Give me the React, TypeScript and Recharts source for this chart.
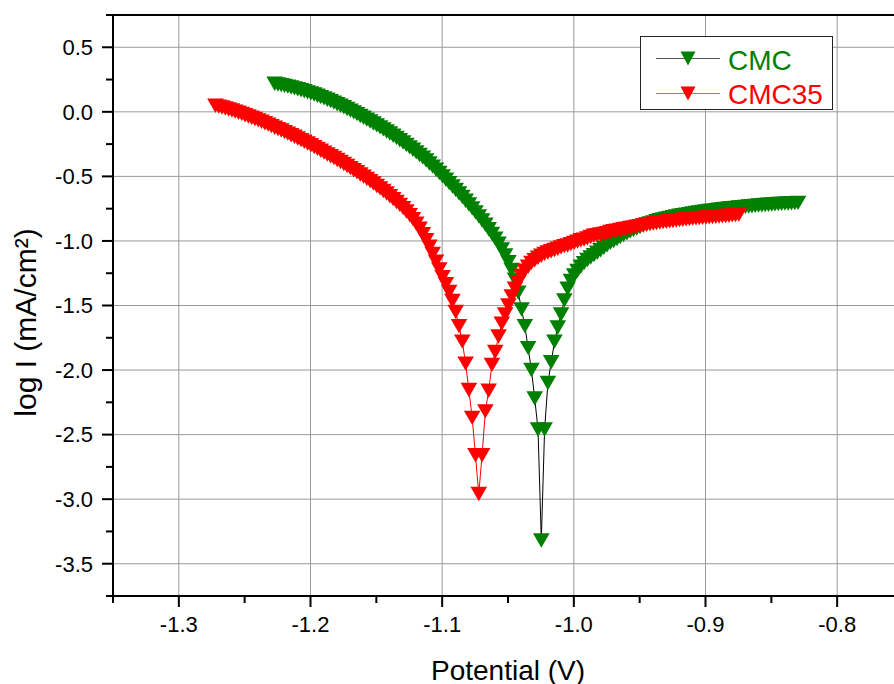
import React from 'react';
import { ComposedChart, Line, XAxis, YAxis, CartesianGrid, ReferenceLine, Legend, Label } from 'recharts';

// Shared potential grid (V), 2.5 mV scan step
const potential = [
  -1.2722, -1.2697, -1.2672, -1.2647, -1.2622, -1.2597, -1.2572, -1.2547, -1.2522, -1.2497,
  -1.2472, -1.2447, -1.2422, -1.2397, -1.2372, -1.2347, -1.2322, -1.2297, -1.2272, -1.2247,
  -1.2222, -1.2197, -1.2172, -1.2147, -1.2122, -1.2097, -1.2072, -1.2047, -1.2022, -1.1997,
  -1.1972, -1.1947, -1.1922, -1.1897, -1.1872, -1.1847, -1.1822, -1.1797, -1.1772, -1.1747,
  -1.1722, -1.1697, -1.1672, -1.1647, -1.1622, -1.1597, -1.1572, -1.1547, -1.1522, -1.1497,
  -1.1472, -1.1447, -1.1422, -1.1397, -1.1372, -1.1347, -1.1322, -1.1297, -1.1272, -1.1247,
  -1.1222, -1.1197, -1.1172, -1.1147, -1.1122, -1.1097, -1.1072, -1.1047, -1.1022, -1.0997,
  -1.0972, -1.0947, -1.0922, -1.0897, -1.0872, -1.0847, -1.0822, -1.0797, -1.0772, -1.0747,
  -1.0722, -1.0697, -1.0672, -1.0647, -1.0622, -1.0597, -1.0572, -1.0547, -1.0522, -1.0497,
  -1.0472, -1.0447, -1.0422, -1.0397, -1.0372, -1.0347, -1.0322, -1.0297, -1.0272, -1.0247,
  -1.0222, -1.0197, -1.0172, -1.0147, -1.0122, -1.0097, -1.0072, -1.0047, -1.0022, -0.9997,
  -0.9972, -0.9947, -0.9922, -0.9897, -0.9872, -0.9847, -0.9822, -0.9797, -0.9772, -0.9747,
  -0.9722, -0.9697, -0.9672, -0.9647, -0.9622, -0.9597, -0.9572, -0.9547, -0.9522, -0.9497,
  -0.9472, -0.9447, -0.9422, -0.9397, -0.9372, -0.9347, -0.9322, -0.9297, -0.9272, -0.9247,
  -0.9222, -0.9197, -0.9172, -0.9147, -0.9122, -0.9097, -0.9072, -0.9047, -0.9022, -0.8997,
  -0.8972, -0.8947, -0.8922, -0.8897, -0.8872, -0.8847, -0.8822, -0.8797, -0.8772, -0.8747,
  -0.8722, -0.8697, -0.8672, -0.8647, -0.8622, -0.8597, -0.8572, -0.8547, -0.8522, -0.8497,
  -0.8472, -0.8447, -0.8422, -0.8397, -0.8372, -0.8347, -0.8322, -0.8297,
];

// CMC35: starts at the first potential of the grid
const cmc35LogI = [
  0.047, 0.040, 0.033, 0.026, 0.018, 0.010, 0.002, -0.007, -0.016, -0.026,
  -0.036, -0.046, -0.056, -0.066, -0.077, -0.088, -0.099, -0.111, -0.123, -0.134,
  -0.145, -0.157, -0.169, -0.181, -0.193, -0.206, -0.219, -0.232, -0.245, -0.259,
  -0.273, -0.287, -0.302, -0.316, -0.330, -0.344, -0.358, -0.373, -0.388, -0.404,
  -0.420, -0.436, -0.452, -0.468, -0.485, -0.502, -0.519, -0.537, -0.555, -0.574,
  -0.593, -0.613, -0.633, -0.654, -0.676, -0.698, -0.721, -0.746, -0.772, -0.800,
  -0.831, -0.866, -0.905, -0.948, -0.995, -1.045, -1.10, -1.16, -1.22, -1.28,
  -1.335, -1.395, -1.465, -1.55, -1.66, -1.78, -1.95, -2.155, -2.37, -2.66,
  -2.96, -2.66, -2.32, -2.16, -1.96, -1.86, -1.74, -1.64, -1.57, -1.50,
  -1.43, -1.37, -1.32, -1.27, -1.23, -1.20, -1.17, -1.15, -1.13, -1.115,
  -1.10, -1.09, -1.08, -1.07, -1.06, -1.05, -1.04, -1.035, -1.025, -1.015,
  -1.005, -0.995, -0.99, -0.98, -0.97, -0.96, -0.955, -0.95, -0.945, -0.94,
  -0.93, -0.925, -0.92, -0.915, -0.91, -0.905, -0.90, -0.895, -0.89, -0.885,
  -0.88, -0.875, -0.87, -0.866, -0.862, -0.858, -0.854, -0.851, -0.848, -0.845,
  -0.842, -0.839, -0.836, -0.833, -0.83, -0.827, -0.825, -0.823, -0.821, -0.819,
  -0.817, -0.815, -0.813, -0.811, -0.809, -0.807, -0.805, -0.802, -0.799, -0.796,
];

// CMC: starts at grid index 18 (-1.2272 V)
const CMC_START_INDEX = 18;
const cmcLogI = [
  0.217, 0.212, 0.207, 0.201, 0.195, 0.189, 0.182, 0.175, 0.167, 0.159,
  0.151, 0.143, 0.134, 0.124, 0.114, 0.104, 0.094, 0.083, 0.071, 0.059,
  0.047, 0.035, 0.022, 0.009, -0.004, -0.018, -0.032, -0.046, -0.060, -0.075,
  -0.090, -0.105, -0.120, -0.136, -0.152, -0.168, -0.185, -0.202, -0.220, -0.238,
  -0.256, -0.275, -0.294, -0.314, -0.334, -0.355, -0.377, -0.400, -0.424, -0.449,
  -0.474, -0.500, -0.526, -0.552, -0.578, -0.605, -0.632, -0.660, -0.689, -0.718,
  -0.748, -0.779, -0.810, -0.842, -0.875, -0.909, -0.945, -0.982, -1.022, -1.065,
  -1.112, -1.165, -1.225, -1.30, -1.40, -1.53, -1.66, -1.83, -2.00, -2.22,
  -2.46, -3.32, -2.46, -2.10, -1.94, -1.78, -1.67, -1.57, -1.46, -1.37,
  -1.31, -1.268, -1.232, -1.200, -1.172, -1.148, -1.128, -1.110, -1.091, -1.072,
  -1.053, -1.034, -1.015, -1.000, -0.985, -0.970, -0.955, -0.940, -0.928, -0.916,
  -0.904, -0.892, -0.880, -0.872, -0.864, -0.856, -0.848, -0.840, -0.834, -0.828,
  -0.822, -0.816, -0.810, -0.805, -0.801, -0.796, -0.792, -0.787, -0.783, -0.779,
  -0.776, -0.772, -0.768, -0.765, -0.762, -0.758, -0.755, -0.752, -0.749, -0.746,
  -0.744, -0.741, -0.738, -0.736, -0.733, -0.731, -0.728, -0.726, -0.724, -0.722,
  -0.720, -0.718, -0.716, -0.714, -0.713, -0.711, -0.710, -0.708, -0.707, -0.705,
];

const xMajorTicks = [-1.3, -1.2, -1.1, -1.0, -0.9, -0.8];
const xMinorTicks = [-1.35, -1.25, -1.15, -1.05, -0.95, -0.85, -0.75];
const yMajorTicks = [0.5, 0.0, -0.5, -1.0, -1.5, -2.0, -2.5, -3.0, -3.5];
const yMinorTicks = [0.75, 0.25, -0.25, -0.75, -1.25, -1.75, -2.25, -2.75, -3.25, -3.75];

const seriesNames = { cmc: 'CMC', cmc35: 'CMC35' };
const xTitle = 'Potential (V)';
const yTitle = 'log I (mA/cm²)';

const tableData = potential.map((p, i) => ({
  potential: p,
  cmc35: i < cmc35LogI.length ? cmc35LogI[i] : null,
  cmc: i >= CMC_START_INDEX && i - CMC_START_INDEX < cmcLogI.length ? cmcLogI[i - CMC_START_INDEX] : null,
}));

const FONT = '"Liberation Sans", Arial, Helvetica, sans-serif';
const TICK_LEN = 11;
const MINOR_LEN = 7;
const TICK_GAP = 9;
const TICK_FONT = 22;
const GREEN = '#008000';
const RED = '#ff0000';

const isIn = (v: number, list: number[]) => list.some((m) => Math.abs(m - v) < 1e-6);

function XTick(props: any) {
  const { x, y, payload } = props;
  const v = payload.value as number;
  const major = isIn(v, xMajorTicks);
  const axisY = y - TICK_LEN - TICK_GAP;
  return (
    <g>
      <line x1={x} x2={x} y1={axisY} y2={axisY + (major ? TICK_LEN : MINOR_LEN)} stroke="#000" strokeWidth={2} />
      {major && (
        <text x={x} y={y + 15.5} textAnchor="middle" fontSize={TICK_FONT} fontFamily={FONT} fill="#000">
          {v.toFixed(1)}
        </text>
      )}
    </g>
  );
}

function YTick(props: any) {
  const { x, y, payload } = props;
  const v = payload.value as number;
  const major = isIn(v, yMajorTicks);
  const axisX = x + TICK_LEN + TICK_GAP;
  return (
    <g>
      <line x1={axisX - (major ? TICK_LEN : MINOR_LEN)} x2={axisX} y1={y} y2={y} stroke="#000" strokeWidth={2} />
      {major && (
        <text x={x} y={y + 7.8} textAnchor="end" fontSize={TICK_FONT} fontFamily={FONT} fill="#000">
          {v.toFixed(1)}
        </text>
      )}
    </g>
  );
}

function triangleDot(color: string) {
  return (props: any) => {
    const { cx, cy, index, value } = props;
    if (cx == null || cy == null || value == null || Number.isNaN(cx) || Number.isNaN(cy)) {
      return <g key={`n-${index}`} />;
    }
    const w = 8.3;
    const h = 7.2;
    return (
      <path
        key={`t-${index}`}
        d={`M${cx - w},${cy - h}L${cx + w},${cy - h}L${cx},${cy + h}Z`}
        fill={color}
        stroke="none"
      />
    );
  };
}

function LegendBox() {
  const tri = (cx: number, cy: number, color: string) => (
    <path d={`M${cx - 7.5},${cy - 7}L${cx + 7.5},${cy - 7}L${cx},${cy + 7}Z`} fill={color} />
  );
  return (
    <svg width={194} height={76} style={{ display: 'block' }}>
      <rect x={0.5} y={0.5} width={192} height={73} fill="#fff" stroke="#222" strokeWidth={1} />
      <line x1={16} x2={80} y1={22.5} y2={22.5} stroke="#555" strokeWidth={1} />
      {tri(48, 22.5, GREEN)}
      <text x={88} y={33.5} fontSize={28} fontFamily={FONT} fill={GREEN}>{seriesNames.cmc}</text>
      <line x1={16} x2={80} y1={57.5} y2={57.5} stroke="#ff5a5a" strokeWidth={1} />
      {tri(48, 57.5, RED)}
      <text x={88} y={68} fontSize={28} fontFamily={FONT} fill={RED}>{seriesNames.cmc35}</text>
    </svg>
  );
}

export default function App() {
  const xAllTicks = [...xMinorTicks, ...xMajorTicks].sort((a, b) => a - b);
  const yAllTicks = [...yMinorTicks, ...yMajorTicks].sort((a, b) => a - b);
  return (
    <div style={{ position: 'absolute', left: 0, top: 0, width: 894, height: 684, overflow: 'hidden', background: '#fff' }}>
      <ComposedChart
        width={920}
        height={684}
        data={tableData}
        margin={{ top: 15, right: 17, bottom: 0, left: 0 }}
        style={{ fontFamily: FONT }}
      >
        <CartesianGrid stroke="#9a9a9a" strokeWidth={1} horizontalValues={yMajorTicks} verticalValues={xMajorTicks} />
        <XAxis
          type="number"
          dataKey="potential"
          domain={[-1.35, -0.75]}
          allowDataOverflow
          ticks={xAllTicks}
          interval={0}
          tickSize={TICK_LEN}
          tickMargin={TICK_GAP}
          tickLine={false}
          axisLine={{ stroke: '#000', strokeWidth: 2 }}
          tick={<XTick />}
          height={88}
        >
          <Label
            content={(p: any) => {
              const vb = p.viewBox || { x: 113, y: 596, width: 790, height: 88 };
              return (
                <text x={vb.x + vb.width / 2} y={vb.y + vb.height - 4.5} textAnchor="middle" fontSize={28} fontFamily={FONT} fill="#000">
                  {xTitle}
                </text>
              );
            }}
          />
        </XAxis>
        <YAxis
          type="number"
          domain={[-3.75, 0.75]}
          allowDataOverflow
          ticks={yAllTicks}
          interval={0}
          tickSize={TICK_LEN}
          tickMargin={TICK_GAP}
          tickLine={false}
          axisLine={{ stroke: '#000', strokeWidth: 2 }}
          tick={<YTick />}
          width={113}
        >
          <Label
            content={(p: any) => {
              const vb = p.viewBox || { x: 0, y: 15, width: 113, height: 581 };
              const tx = vb.x + 35.5;
              const ty = vb.y + vb.height / 2 + 17;
              return (
                <text x={tx} y={ty} transform={`rotate(-90, ${tx}, ${ty})`} textAnchor="middle" fontSize={30} fontFamily={FONT} fill="#000">
                  {yTitle}
                </text>
              );
            }}
          />
        </YAxis>
        <ReferenceLine y={0.75} stroke="#000" strokeWidth={2} />
        <Line
          type="linear"
          dataKey="cmc"
          name={seriesNames.cmc}
          stroke="#000"
          strokeWidth={1}
          dot={triangleDot(GREEN)}
          activeDot={false}
          isAnimationActive={false}
          connectNulls={false}
        />
        <Line
          type="linear"
          dataKey="cmc35"
          name={seriesNames.cmc35}
          stroke={RED}
          strokeWidth={1}
          dot={triangleDot(RED)}
          activeDot={false}
          isAnimationActive={false}
          connectNulls={false}
        />
        <Legend
          layout="horizontal"
          verticalAlign="middle"
          align="center"
          wrapperStyle={{ left: 640, top: 36, width: 194, height: 76 }}
          content={() => <LegendBox />}
        />
      </ComposedChart>
    </div>
  );
}
